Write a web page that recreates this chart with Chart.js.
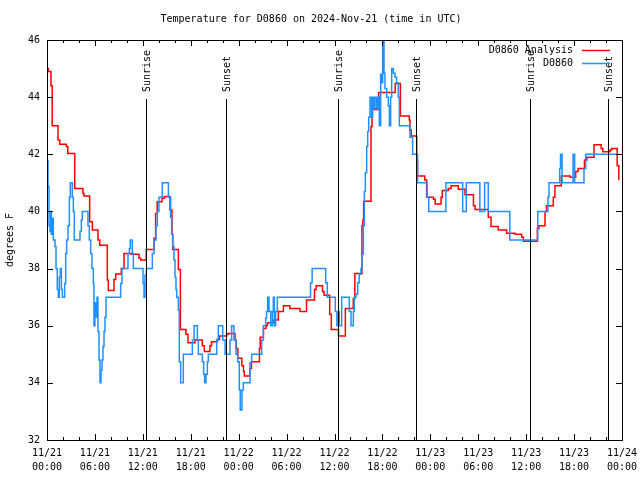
<!DOCTYPE html>
<html>
<head>
<meta charset="UTF-8">
<title>Temperature for D0860</title>
<script src="https://cdn.jsdelivr.net/npm/chart.js"></script>
<style>
  html, body { margin: 0; padding: 0; background: #fff; }
</style>
</head>
<body>
<canvas id="tempChart" width="640" height="480"></canvas>

<script>
// hours since 11/21 00:00 UTC, temperature in degrees F (held until next point)
var analysisHours = [
    0, 0.17, 0.5, 0.65, 1.38, 1.6, 2.42, 2.6, 3.47, 4.5,
    4.63, 5.34, 5.68, 6.39, 6.6, 7.55, 7.68, 8.39, 8.6, 9.3,
    9.64, 10.56, 11.52, 11.73, 12.43, 13.4, 13.6, 13.8, 14.4, 14.7,
    15.4, 15.65, 15.74, 16.45, 16.7, 17.4, 17.65, 18.53, 19.45, 19.7,
    20.4, 20.6, 21.3, 21.6, 22.5, 22.7, 23.54, 23.7, 23.9, 24.4,
    24.6, 24.7, 25.4, 25.6, 26.6, 26.7, 27.1, 27.42, 27.6, 28.34,
    28.97, 29.6, 30.4, 31.68, 32.5, 33.5, 33.7, 34.5, 34.7, 35.4,
    35.6, 36.5, 37.36, 38.35, 38.55, 39.44, 39.55, 39.65, 40.57, 40.7,
    41.53, 43.6, 44.25, 45.37, 45.45, 45.6, 46.3, 46.4, 47.3, 47.54,
    48.4, 48.6, 49.34, 49.5, 50.25, 50.6, 51.5, 52.34, 53.4, 53.6,
    55.26, 55.6, 56.5, 57.55, 58.6, 59.44, 59.65, 61.4, 61.6, 62.36,
    62.55, 63.4, 63.6, 64.4, 65.5, 66.2, 66.5, 67.3, 67.6, 68.5,
    69.4, 69.6, 70.5, 70.7, 71.4, 71.6
];
var analysisTemps = [
    45.0, 44.9, 44.4, 43.0, 42.5, 42.35, 42.27, 42.03, 40.8, 40.63,
    40.54, 39.64, 39.35, 39.0, 38.82, 37.6, 37.23, 37.62, 37.81, 38.0,
    38.53, 38.5, 38.36, 38.3, 38.67, 39.06, 39.93, 40.34, 40.46, 40.52,
    40.05, 39.2, 38.67, 37.97, 35.87, 35.7, 35.4, 35.5, 35.3, 35.1,
    35.3, 35.44, 35.52, 35.64, 35.7, 35.73, 35.5, 35.2, 34.86, 34.6,
    34.4, 34.24, 34.5, 34.74, 35.2, 35.6, 35.9, 36.0, 36.1, 36.2,
    36.5, 36.7, 36.6, 36.5, 36.9, 37.27, 37.4, 37.2, 37.07, 36.4,
    35.87, 35.64, 36.6, 36.95, 37.83, 39.5, 39.7, 40.36, 42.97, 43.57,
    44.16, 44.48, 43.34, 43.2, 42.85, 42.64, 41.8, 41.24, 41.1, 40.5,
    40.43, 40.26, 40.5, 40.73, 40.8, 40.9, 40.78, 40.58, 40.2, 40.07,
    39.8, 39.47, 39.35, 39.24, 39.2, 39.1, 38.96, 39.4, 39.5, 40.0,
    40.2, 40.5, 40.9, 41.24, 41.2, 41.4, 41.5, 41.8, 41.9, 42.33,
    42.2, 42.09, 42.15, 42.2, 41.6, 41.1
];

var obsHours = [
    0, 0.125, 0.25, 0.375, 0.46, 0.54, 0.67, 0.79, 1.0, 1.13,
    1.29, 1.42, 1.54, 1.67, 1.8, 1.92, 2.21, 2.34, 2.46, 2.63,
    2.8, 2.92, 3.17, 3.3, 3.42, 4.13, 4.3, 4.42, 5.13, 5.3,
    5.47, 5.63, 5.8, 5.88, 6.0, 6.13, 6.26, 6.38, 6.51, 6.64,
    6.76, 6.89, 7.01, 7.14, 7.26, 7.39, 9.22, 9.39, 10.14, 10.31,
    10.43, 10.68, 10.81, 12.02, 12.15, 12.27, 12.44, 13.19, 13.4, 13.65,
    13.82, 14.02, 14.44, 15.2, 15.49, 15.61, 15.74, 15.9, 16.03, 16.15,
    16.24, 16.45, 16.57, 16.74, 17.07, 18.2, 18.41, 18.83, 18.95, 19.45,
    19.62, 19.74, 19.91, 20.08, 20.2, 21.25, 21.45, 22.0, 22.3, 22.91,
    23.12, 23.41, 23.67, 23.87, 24.08, 24.2, 24.42, 24.58, 25.42, 25.63,
    26.88, 27.09, 27.38, 27.5, 27.63, 27.8, 28.01, 28.22, 28.34, 28.47,
    28.63, 28.84, 33.0, 33.2, 34.9, 35.1, 36.1, 36.3, 36.5, 36.6,
    36.9, 37.85, 38.07, 38.36, 38.48, 38.69, 38.9, 39.1, 39.32, 39.44,
    39.61, 39.74, 39.86, 40.03, 40.16, 40.28, 40.45, 40.65, 40.78, 40.95,
    41.07, 41.28, 41.45, 41.61, 41.78, 41.91, 42.03, 42.2, 42.32, 42.53,
    42.74, 42.87, 43.03, 43.16, 43.37, 43.58, 43.78, 43.99, 44.12, 45.45,
    45.78, 46.4, 47.6, 47.8, 49.95, 52.05, 52.5, 54.2, 54.8, 55.25,
    57.95, 61.45, 62.73, 62.86, 64.2, 64.3, 64.5, 65.87, 66.07, 67.24,
    67.45, 71.6
];
var obsTemps = [
    41.78, 40.87, 39.5, 39.3, 40.0, 39.2, 39.76, 39.0, 38.77, 38.0,
    37.27, 37.0, 37.7, 38.0, 37.27, 37.0, 37.48, 38.53, 39.0, 39.5,
    40.5, 41.0, 40.5, 40.0, 39.0, 39.3, 39.7, 40.0, 39.5, 39.0,
    38.53, 38.0, 37.48, 36.0, 36.8, 36.3, 37.0, 35.8, 34.8, 34.0,
    34.45, 34.8, 35.27, 35.8, 36.3, 37.0, 37.48, 38.0, 38.53, 38.7,
    39.0, 38.53, 38.0, 37.48, 37.0, 37.77, 38.0, 38.53, 39.0, 39.5,
    40.0, 40.5, 41.0, 40.5, 39.8, 39.2, 38.77, 38.3, 37.7, 37.27,
    37.0, 36.55, 34.74, 34.0, 35.0, 35.5, 36.0, 35.5, 35.0, 34.74,
    34.3, 34.0, 34.3, 34.74, 35.0, 35.5, 36.0, 35.5, 35.0, 35.5,
    36.0, 35.5, 35.0, 34.74, 33.75, 33.05, 33.75, 34.0, 34.7, 35.0,
    35.5, 36.0, 36.27, 36.5, 37.0, 36.5, 36.0, 36.5, 37.0, 36.0,
    36.5, 37.0, 37.5, 38.0, 37.5, 37.0, 36.5, 36.0, 36.5, 36.0,
    37.0, 36.5, 36.0, 36.5, 37.0, 37.1, 37.5, 37.8, 38.0, 38.5,
    39.5, 40.7, 41.35, 42.27, 42.8, 43.3, 44.0, 43.3, 44.0, 43.6,
    44.0, 43.6, 44.0, 43.0, 44.8, 44.5, 46.0, 44.84, 44.3, 44.0,
    43.7, 43.0, 44.0, 45.0, 44.84, 44.7, 44.5, 44.0, 43.0, 42.6,
    42.0, 41.0, 40.5, 40.0, 41.0, 40.0, 41.0, 40.0, 41.0, 40.0,
    39.0, 40.0, 40.5, 41.0, 41.5, 42.0, 41.0, 42.0, 41.0, 41.5,
    42.0, 42.0
];

var xTickLabels = [
    ['11/21', '00:00'], ['11/21', '06:00'], ['11/21', '12:00'], ['11/21', '18:00'],
    ['11/22', '00:00'], ['11/22', '06:00'], ['11/22', '12:00'], ['11/22', '18:00'],
    ['11/23', '00:00'], ['11/23', '06:00'], ['11/23', '12:00'], ['11/23', '18:00'],
    ['11/24', '00:00']
];

var sunHours = [12.43, 22.37, 36.48, 46.25, 60.52, 70.25];
var sunLabels = ['Sunrise', 'Sunset', 'Sunrise', 'Sunset', 'Sunrise', 'Sunset'];

var FONT = '"DejaVu Sans Mono", monospace';

function toPoints(hours, temps) {
    var pts = [];
    for (var i = 0; i < hours.length; i++) {
        pts.push({x: hours[i], y: temps[i]});
    }
    return pts;
}

// gnuplot-ish frame: border, inward ticks, sunrise/sunset markers, key
var gnuplotFrame = {
    id: 'gnuplotFrame',
    afterDatasetsDraw: function(chart) {
        var ctx = chart.ctx;
        var a = chart.chartArea;
        var xs = chart.scales.x;
        var ys = chart.scales.y;
        ctx.save();
        ctx.strokeStyle = '#000';
        ctx.fillStyle = '#000';
        ctx.lineWidth = 1;
        ctx.font = '10px ' + FONT;

        // sunrise / sunset lines
        sunHours.forEach(function(h, i) {
            var px = Math.round(xs.getPixelForValue(h)) + 0.5;
            ctx.beginPath();
            ctx.moveTo(px, a.top + 59);
            ctx.lineTo(px, a.bottom);
            ctx.stroke();
            ctx.save();
            ctx.translate(px + 1, a.top + 52);
            ctx.rotate(-Math.PI / 2);
            ctx.textAlign = 'left';
            ctx.textBaseline = 'middle';
            ctx.fillText(sunLabels[i], 0, 0);
            ctx.restore();
        });

        // border
        ctx.strokeRect(a.left + 0.5, a.top + 0.5, a.right - a.left, a.bottom - a.top);

        // x ticks, major every 6h, minor every 2h
        ctx.beginPath();
        for (var h = 0; h <= 72; h += 2) {
            var px = Math.round(xs.getPixelForValue(h)) + 0.5;
            var len = (h % 6 === 0) ? 6 : 3;
            ctx.moveTo(px, a.bottom);
            ctx.lineTo(px, a.bottom - len);
            ctx.moveTo(px, a.top);
            ctx.lineTo(px, a.top + len);
        }
        // y ticks
        for (var t = 32; t <= 46; t += 2) {
            var py = Math.round(ys.getPixelForValue(t)) + 0.5;
            ctx.moveTo(a.left, py);
            ctx.lineTo(a.left + 6, py);
            ctx.moveTo(a.right, py);
            ctx.lineTo(a.right - 6, py);
        }
        ctx.stroke();

        // key
        ctx.textAlign = 'right';
        ctx.textBaseline = 'middle';
        chart.data.datasets.forEach(function(ds, i) {
            var ky = a.top + 10 + i * 13;
            ctx.fillStyle = '#000';
            ctx.fillText(ds.label, 573, ky);
            ctx.strokeStyle = ds.borderColor;
            ctx.lineWidth = 1.5;
            ctx.beginPath();
            ctx.moveTo(582, ky + 0.5);
            ctx.lineTo(610, ky + 0.5);
            ctx.stroke();
        });
        ctx.restore();
    }
};

var ctx = document.getElementById('tempChart').getContext('2d');
new Chart(ctx, {
    type: 'line',
    data: {
        datasets: [{
            label: 'D0860 Analysis',
            data: toPoints(analysisHours, analysisTemps),
            borderColor: '#ff0000',
            borderWidth: 1.5,
            pointRadius: 0,
            stepped: true,
            fill: false,
            order: 1
        }, {
            label: 'D0860',
            data: toPoints(obsHours, obsTemps),
            borderColor: '#1e90ff',
            borderWidth: 1.5,
            pointRadius: 0,
            stepped: true,
            fill: false,
            order: 0
        }]
    },
    options: {
        responsive: false,
        animation: false,
        devicePixelRatio: 1,
        layout: { padding: { left: 0, right: 18, top: 0, bottom: 0 } },
        plugins: {
            legend: { display: false },
            tooltip: { enabled: false },
            title: {
                display: true,
                text: 'Temperature for D0860 on 2024-Nov-21 (time in UTC)',
                color: '#000',
                font: { family: FONT, size: 10, weight: 'normal', lineHeight: 1.2 },
                padding: { top: 13, bottom: 15 }
            }
        },
        scales: {
            x: {
                type: 'linear',
                min: 0,
                max: 72,
                afterFit: function(s) {
                    s.height = 40;
                    s.paddingLeft = 0;
                    s.paddingRight = 0;
                },
                grid: { display: false, drawTicks: false },
                border: { display: false },
                ticks: {
                    stepSize: 6,
                    autoSkip: false,
                    maxRotation: 0,
                    padding: 6,
                    color: '#000',
                    font: { family: FONT, size: 10, lineHeight: 1.4 },
                    callback: function(v) { return xTickLabels[Math.round(v / 6)]; }
                }
            },
            y: {
                min: 32,
                max: 46,
                afterFit: function(s) {
                    s.width = 47;
                    s.paddingTop = 0;
                    s.paddingBottom = 0;
                },
                grid: { display: false, drawTicks: false },
                border: { display: false },
                ticks: {
                    stepSize: 2,
                    padding: 7,
                    color: '#000',
                    font: { family: FONT, size: 10 }
                },
                title: {
                    display: true,
                    text: 'degrees F',
                    color: '#000',
                    font: { family: FONT, size: 10, lineHeight: 1.2 },
                    padding: { top: 4, bottom: 0 }
                }
            }
        }
    },
    plugins: [gnuplotFrame]
});
</script>
</body>
</html>
